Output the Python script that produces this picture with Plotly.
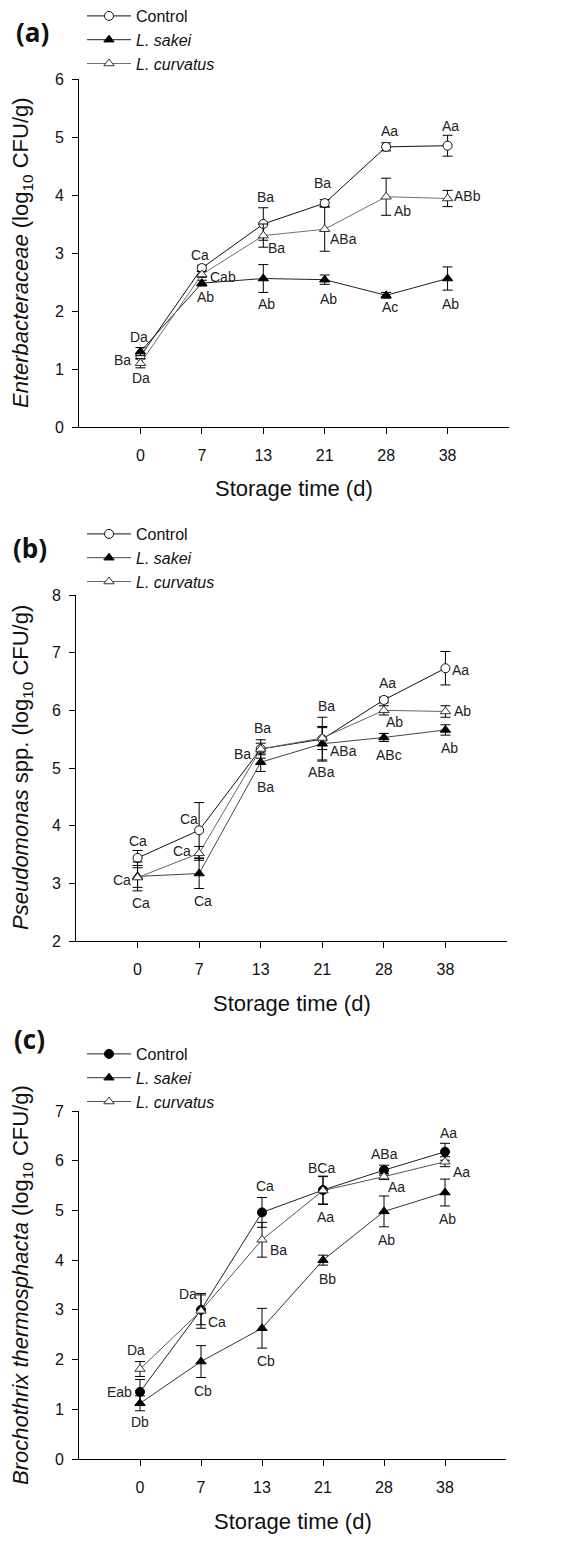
import plotly.graph_objects as go

# The page is photographed with the browser's default 8px body margin,
# so the figure is sized to fit inside it and positions are page coords - 8.
OFF = 8
W, H = 587 - OFF, 1546 - OFF
days = ["0", "7", "13", "21", "28", "38"]

# ---------- (a) Enterobacteriaceae ----------
a_control = [1.22, 2.74, 3.50, 3.86, 4.83, 4.85]
a_control_err = [0.05, 0.05, 0.28, 0.06, 0.07, 0.18]
a_sakei = [1.30, 2.48, 2.56, 2.54, 2.27, 2.56]
a_sakei_err = [0.07, 0.05, 0.24, 0.08, 0.05, 0.20]
a_curvatus = [1.10, 2.63, 3.30, 3.41, 3.97, 3.94]
a_curvatus_err = [0.08, 0.05, 0.20, 0.38, 0.32, 0.14]
a_control_lbl = ["Ba", "Ca", "Ba", "Ba", "Aa", "Aa"]
a_sakei_lbl = ["Da", "Ab", "Ab", "Ab", "Ac", "Ab"]
a_curvatus_lbl = ["Da", "Cab", "Ba", "ABa", "Ab", "ABb"]

# ---------- (b) Pseudomonas spp. ----------
b_control = [3.44, 3.92, 5.33, 5.50, 6.18, 6.73]
b_control_err = [0.13, 0.48, 0.16, 0.38, 0.05, 0.29]
b_sakei = [3.12, 3.17, 5.10, 5.42, 5.53, 5.66]
b_sakei_err = [0.25, 0.26, 0.16, 0.28, 0.07, 0.09]
b_curvatus = [3.10, 3.52, 5.33, 5.52, 6.00, 5.98]
b_curvatus_err = [0.17, 0.12, 0.10, 0.20, 0.08, 0.10]
b_control_lbl = ["Ca", "Ca", "Ba", "Ba", "Aa", "Aa"]
b_sakei_lbl = ["Ca", "Ca", "Ba", "ABa", "ABc", "Ab"]
b_curvatus_lbl = ["Ca", "Ca", "Ba", "ABa", "Ab", "Ab"]

# ---------- (c) Brochothrix thermosphacta ----------
c_control = [1.35, 3.00, 4.96, 5.41, 5.81, 6.18]
c_control_err = [0.25, 0.30, 0.30, 0.28, 0.10, 0.17]
c_sakei = [1.12, 1.96, 2.63, 4.00, 4.98, 5.36]
c_sakei_err = [0.15, 0.32, 0.40, 0.10, 0.31, 0.27]
c_curvatus = [1.81, 2.98, 4.41, 5.40, 5.68, 5.98]
c_curvatus_err = [0.15, 0.35, 0.35, 0.28, 0.06, 0.10]
c_control_lbl = ["Eab", "Da", "Ca", "BCa", "ABa", "Aa"]
c_sakei_lbl = ["Db", "Cb", "Cb", "Bb", "Ab", "Ab"]
c_curvatus_lbl = ["Da", "Ca", "Ba", "Aa", "Aa", "Aa"]

series_names = ["Control", "<i>L. sakei</i>", "<i>L. curvatus</i>"]

# ---------- layout / style config (page pixels) ----------
FONT = "Liberation Sans, Arial, sans-serif"
panels = [
    dict(tag="(a)", tag_xy=(32, 32),
         left=79, right=509, top=79, bottom=427, yrange=[0, 6], dtick=1,
         ytitle="<i>Enterbacteraceae</i> (log<sub>10</sub> CFU/g)",
         legend_row1=16,
         data=[(a_control, a_control_err, a_control_lbl),
               (a_sakei, a_sakei_err, a_sakei_lbl),
               (a_curvatus, a_curvatus_err, a_curvatus_lbl)],
         offsets=[
             [(-18, 4), (-2, -13), (2, -27), (-2, -20), (3, -16), (3, -20)],
             [(-1, -15), (4, 14), (3, 25), (4, 19), (4, 12), (3, 25)],
             [(1, 15), (21, 3), (13, 12), (19, 10), (16, 14), (20, -2)],
         ],
         styles=[
             dict(line="#111111", fill="white", sym="circle", edge="#111111"),
             dict(line="#222222", fill="black", sym="triangle-up", edge="black"),
             dict(line="#707070", fill="white", sym="triangle-up", edge="#333333"),
         ]),
    dict(tag="(b)", tag_xy=(30, 548),
         left=76, right=507, top=595, bottom=941, yrange=[2, 8], dtick=1,
         ytitle="<i>Pseudomonas</i> spp. (log<sub>10</sub> CFU/g)",
         legend_row1=534,
         data=[(b_control, b_control_err, b_control_lbl),
               (b_sakei, b_sakei_err, b_sakei_lbl),
               (b_curvatus, b_curvatus_err, b_curvatus_lbl)],
         offsets=[
             [(0, -17), (-10, -11), (2, -21), (4, -33), (4, -17), (15, 2)],
             [(3, 27), (4, 27), (5, 25), (-1, 28), (5, 18), (4, 18)],
             [(-16, 2), (-17, -2), (-18, 5), (21, 13), (11, 12), (17, 0)],
         ],
         styles=[
             dict(line="#111111", fill="white", sym="circle", edge="#111111"),
             dict(line="#444444", fill="black", sym="triangle-up", edge="black"),
             dict(line="#666666", fill="white", sym="triangle-up", edge="#333333"),
         ]),
    dict(tag="(c)", tag_xy=(29, 1039),
         left=79, right=506, top=1111, bottom=1459, yrange=[0, 7], dtick=1,
         ytitle="<i>Brochothrix thermosphacta</i> (log<sub>10</sub> CFU/g)",
         legend_row1=1054,
         data=[(c_control, c_control_err, c_control_lbl),
               (c_sakei, c_sakei_err, c_sakei_lbl),
               (c_curvatus, c_curvatus_err, c_curvatus_lbl)],
         offsets=[
             [(-21, 0), (-13, -16), (3, -26), (-2, -22), (0, -16), (3, -19)],
             [(0, 19), (2, 29), (4, 33), (4, 19), (2, 29), (2, 26)],
             [(-4, -19), (16, 11), (16, 10), (2, 26), (12, 10), (16, 10)],
         ],
         styles=[
             dict(line="#222222", fill="black", sym="circle", edge="black"),
             dict(line="#333333", fill="black", sym="triangle-up", edge="black"),
             dict(line="#555555", fill="white", sym="triangle-up", edge="#333333"),
         ]),
]


def px_x(v):
    return (v - OFF) / W


def px_y(v):
    return 1 - (v - OFF) / H


fig = go.Figure()
annotations = []
layout = dict(
    width=W, height=H,
    margin=dict(l=0, r=0, t=0, b=0, autoexpand=False),
    paper_bgcolor="white", plot_bgcolor="white",
    font=dict(family=FONT, color="#111111"),
)

for k, p in enumerate(panels):
    n = "" if k == 0 else str(k + 1)
    xa, ya = "x" + n, "y" + n
    leg = "legend" + n
    for s, ((vals, errs, lbls), st, offs) in enumerate(zip(p["data"], p["styles"], p["offsets"])):
        fig.add_trace(go.Scatter(
            x=days, y=vals, xaxis=xa, yaxis=ya, name=series_names[s], legend=leg,
            mode="lines+markers",
            line=dict(color=st["line"], width=1),
            marker=dict(symbol=st["sym"], size=9, color=st["fill"],
                        line=dict(color=st["edge"], width=1)),
            error_y=dict(type="data", array=errs, visible=True, color="black",
                         thickness=1, width=5),
            showlegend=True,
        ))
        for i, (v, t, (dx, dy)) in enumerate(zip(vals, lbls, offs)):
            annotations.append(dict(
                x=i, y=v, xref=xa, yref=ya, text=t, showarrow=False,
                xshift=dx, yshift=-dy, xanchor="center", yanchor="middle",
                font=dict(size=14, family=FONT, color="#222222")))

    layout["xaxis" + n] = dict(
        domain=[px_x(p["left"]), px_x(p["right"])], anchor=ya,
        type="category", categoryorder="array", categoryarray=days,
        range=[-1, 6], showline=True, linecolor="black", linewidth=1,
        ticks="outside", ticklen=6, tickcolor="black", showgrid=False,
        zeroline=False, ticklabelstandoff=8,
        tickfont=dict(size=16, family=FONT, color="#111111"))
    layout["yaxis" + n] = dict(
        domain=[px_y(p["bottom"]), px_y(p["top"])], anchor=xa,
        range=p["yrange"], dtick=p["dtick"], showline=True, linecolor="black",
        linewidth=1, ticks="outside", ticklen=6, tickcolor="black",
        showgrid=False, zeroline=False, ticklabelstandoff=5,
        tickfont=dict(size=16, family=FONT, color="#111111"))
    layout[leg] = dict(
        x=px_x(82), y=px_y(p["legend_row1"] - 17), xanchor="left", yanchor="top",
        xref="paper", yref="paper", itemwidth=44,
        bgcolor="rgba(0,0,0,0)", borderwidth=0, tracegroupgap=0,
        font=dict(size=16, family=FONT, color="#111111"))

    # axis titles and panel tag
    annotations.append(dict(
        x=0.5, y=0, xref=xa + " domain", yref=ya + " domain", yshift=-62,
        text="Storage time (d)", showarrow=False, xanchor="center", yanchor="middle",
        font=dict(size=22, family=FONT, color="#111111")))
    annotations.append(dict(
        x=px_x(22), y=px_y((p["top"] + p["bottom"]) / 2), xref="paper", yref="paper",
        text=p["ytitle"], textangle=-90, showarrow=False,
        xanchor="center", yanchor="middle",
        font=dict(size=22, family=FONT, color="#111111")))
    annotations.append(dict(
        x=px_x(p["tag_xy"][0]), y=px_y(p["tag_xy"][1]), xref="paper", yref="paper",
        text="<b>" + p["tag"] + "</b>", showarrow=False,
        xanchor="center", yanchor="middle",
        font=dict(size=26, family="Open Sans, sans-serif", color="#111111")))

layout["annotations"] = annotations
fig.update_layout(**layout)
fig.write_html("out.html")
